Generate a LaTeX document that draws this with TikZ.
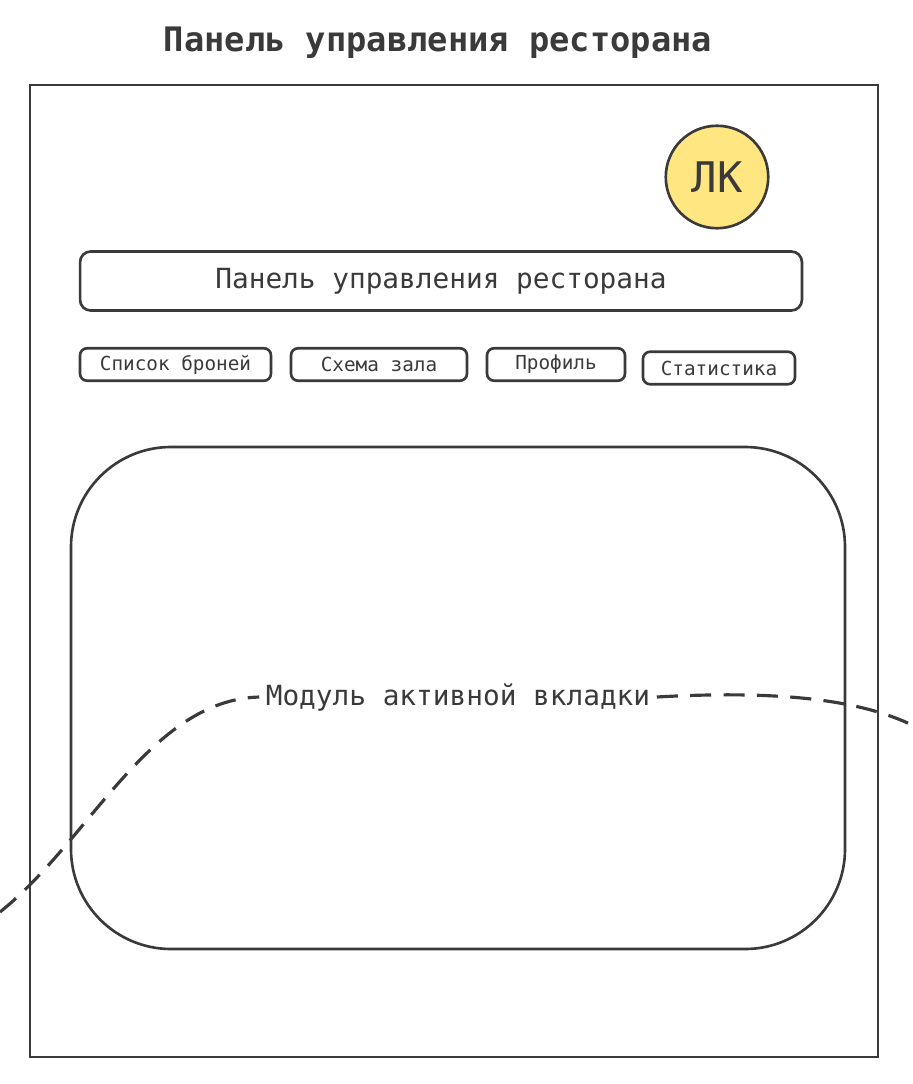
\documentclass[tikz,border=0pt]{standalone}
\usepackage{fontspec}
\setmainfont{DejaVu Sans Mono}
\usetikzlibrary{positioning}
\definecolor{inkGray}{HTML}{3A3A3A}
\definecolor{softYellow}{HTML}{FFE680}
\begin{document}
\begin{tikzpicture}[x=0.02cm,y=-0.02cm,line width=1.5pt,draw=inkGray,
  tab/.style={draw,rounded corners=4pt,minimum height=0.65cm,font=\fontsize{11}{13}\selectfont,text=inkGray},
  bar/.style={draw,rounded corners=6pt,font=\fontsize{15.8}{18}\selectfont,text=inkGray}]
  \useasboundingbox (0,0) rectangle (912,1084);

  \node (title) at (438,43) {\fontsize{19.2}{22}\selectfont\bfseries\color{inkGray}Панель управления ресторана};
  \draw[inkGray] (30,85) rectangle (878,1057);

  \node (lk) [circle,draw=inkGray,fill=softYellow,minimum size=2.05cm,
    font=\fontsize{24}{26}\selectfont,text=inkGray] at (717,177) {ЛК};

  \node (header) [bar,minimum width=14.44cm,minimum height=1.18cm] at (441,281) {Панель управления ресторана};

  \node (bookings) [tab,minimum width=3.82cm] at (175.5,364.5) {Список броней};
  \node (hall) [tab,minimum width=3.52cm] at (379,364.5) {Схема зала};
  \node (profile) [tab,minimum width=2.76cm] at (556,364.5) {Профиль};
  \node (stats) [tab,minimum width=3.04cm] at (719,368) {Статистика};

  \draw[inkGray,rounded corners=2cm] (71,447) rectangle (845,949);

  \node (module) [fill=white,inner sep=3pt,font=\fontsize{15.8}{18}\selectfont,text=inkGray] at (458,697) {Модуль активной вкладки};
  \coordinate (flowIn) at (0,912);
  \coordinate (flowOut) at (912,725);
  \draw[inkGray,line width=1.8pt,dash pattern=on 12pt off 7pt] (flowIn) .. controls (90,840) and (150,700) .. (module.west);
  \draw[inkGray,line width=1.8pt,dash pattern=on 12pt off 7pt] (module.east) .. controls (780,690) and (860,700) .. (flowOut);
\end{tikzpicture}
\end{document}
